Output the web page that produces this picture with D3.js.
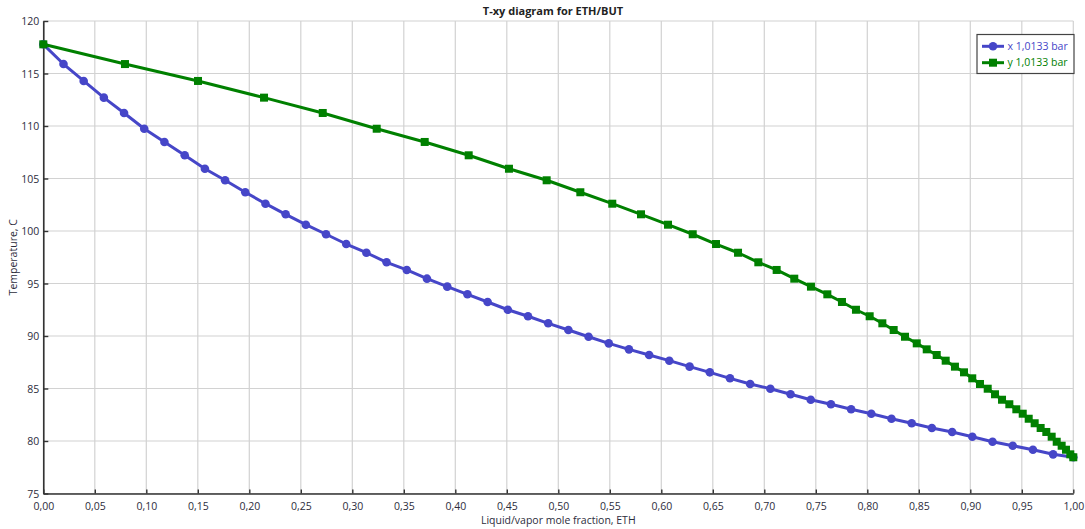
<!DOCTYPE html>
<html>
<head>
<meta charset="utf-8">
<script src="https://cdn.jsdelivr.net/npm/d3@7/dist/d3.min.js"></script>
<style>
  html, body { margin: 0; padding: 0; background: #ffffff; }
  svg { display: block; font-family: "Open Sans", "Noto Sans", sans-serif; }
</style>
</head>
<body>
<svg id="chart" width="1085" height="529"></svg>
<script>
// Equilibrium temperatures (°C) at 1,0133 bar
const temperature = [
  117.78, 115.90, 114.29, 112.70, 111.24, 109.74, 108.48, 107.21, 105.93, 104.83,
  103.69, 102.60, 101.59, 100.60, 99.69, 98.76, 97.93, 97.02, 96.29, 95.46,
  94.70, 93.97, 93.24, 92.50, 91.88, 91.21, 90.57, 89.93, 89.30, 88.73,
  88.19, 87.65, 87.08, 86.54, 85.97, 85.43, 84.98, 84.45, 83.93, 83.50,
  83.02, 82.60, 82.12, 81.69, 81.24, 80.86, 80.41, 79.93, 79.55, 79.17,
  78.73, 78.45
];

// Liquid mole fraction of ETH (bubble-point curve)
const liquidX = [
  0.0000, 0.0196, 0.0392, 0.0588, 0.0784, 0.0980, 0.1176, 0.1373, 0.1569, 0.1765,
  0.1961, 0.2157, 0.2353, 0.2549, 0.2745, 0.2941, 0.3137, 0.3333, 0.3529, 0.3725,
  0.3922, 0.4118, 0.4314, 0.4510, 0.4706, 0.4902, 0.5098, 0.5294, 0.5490, 0.5686,
  0.5882, 0.6078, 0.6275, 0.6471, 0.6667, 0.6863, 0.7059, 0.7255, 0.7451, 0.7647,
  0.7843, 0.8039, 0.8235, 0.8431, 0.8627, 0.8824, 0.9020, 0.9216, 0.9412, 0.9608,
  0.9804, 1.0000
];

// Vapor mole fraction of ETH (dew-point curve)
const vaporY = [
  0.0000, 0.0793, 0.1502, 0.2143, 0.2713, 0.3237, 0.3703, 0.4130, 0.4521, 0.4887,
  0.5214, 0.5524, 0.5803, 0.6065, 0.6305, 0.6531, 0.6745, 0.6942, 0.7120, 0.7291,
  0.7453, 0.7612, 0.7754, 0.7890, 0.8023, 0.8146, 0.8256, 0.8366, 0.8480, 0.8577,
  0.8674, 0.8761, 0.8851, 0.8939, 0.9019, 0.9094, 0.9169, 0.9240, 0.9308, 0.9379,
  0.9447, 0.9509, 0.9567, 0.9625, 0.9683, 0.9738, 0.9790, 0.9839, 0.9887, 0.9929,
  0.9971, 1.0000
];

const xTicks = [0, 0.05, 0.10, 0.15, 0.20, 0.25, 0.30, 0.35, 0.40, 0.45, 0.50,
                0.55, 0.60, 0.65, 0.70, 0.75, 0.80, 0.85, 0.90, 0.95, 1.00];
const yTicks = [75, 80, 85, 90, 95, 100, 105, 110, 115, 120];

const seriesNames = ["x  1,0133 bar", "y  1,0133 bar"];
const blue = "#4646c8";
const green = "#008000";
const textColor = "#2d2d3c";

const W = 1085, H = 529;
const margin = { left: 43.3, right: 11.7, top: 21, bottom: 35.5 };

const svg = d3.select("#chart");

const x = d3.scaleLinear().domain([0, 1]).range([margin.left, W - margin.right]);
const y = d3.scaleLinear().domain([75, 120]).range([H - margin.bottom, margin.top]);

// Grid
const grid = svg.append("g");
grid.selectAll("line.v").data(xTicks).join("line")
  .attr("x1", d => x(d)).attr("x2", d => x(d))
  .attr("y1", y(120)).attr("y2", y(75))
  .attr("stroke", "#d2d2d2").attr("stroke-width", 1.2);
grid.selectAll("line.h").data(yTicks).join("line")
  .attr("x1", x(0)).attr("x2", x(1))
  .attr("y1", d => y(d)).attr("y2", d => y(d))
  .attr("stroke", "#d2d2d2").attr("stroke-width", 1.2);

// Axes (ticks point into the plot)
const fmt = d => d3.format(".2f")(d).replace(".", ",");
const xAxis = svg.append("g")
  .attr("transform", `translate(0,${y(75)})`)
  .call(d3.axisBottom(x).tickValues(xTicks).tickFormat(fmt).tickSize(-4).tickSizeOuter(0).tickPadding(9));
const yAxis = svg.append("g")
  .attr("transform", `translate(${x(0)},0)`)
  .call(d3.axisLeft(y).tickValues(yTicks).tickFormat(d3.format("d")).tickSize(-5).tickSizeOuter(0).tickPadding(4));

[xAxis, yAxis].forEach(a => {
  a.select(".domain").attr("stroke", "#333").attr("stroke-width", 1.6);
  a.selectAll(".tick line").attr("stroke", "#333").attr("stroke-width", 1.4);
  a.selectAll(".tick text").attr("fill", textColor)
    .style("font-size", "10.5px").style("font-family", "'Open Sans', sans-serif");
});
yAxis.selectAll(".tick text").attr("dy", "0.35em");
xAxis.selectAll(".tick text").attr("dy", "0.71em");

// Titles
svg.append("text")
  .attr("x", 553).attr("y", 15)
  .attr("text-anchor", "middle")
  .attr("fill", "#222")
  .style("font-size", "11px").style("font-weight", "bold")
  .text("T-xy diagram for ETH/BUT");

svg.append("text")
  .attr("x", (x(0) + x(1)) / 2).attr("y", 524)
  .attr("text-anchor", "middle")
  .attr("fill", textColor)
  .style("font-size", "10.5px")
  .text("Liquid/vapor mole fraction, ETH");

svg.append("text")
  .attr("transform", `translate(17,${(y(75) + y(120)) / 2}) rotate(-90)`)
  .attr("text-anchor", "middle")
  .attr("fill", textColor)
  .style("font-size", "10.5px")
  .text("Temperature, C");

// Series
const liquidPts = liquidX.map((v, i) => [v, temperature[i]]);
const vaporPts = vaporY.map((v, i) => [v, temperature[i]]);
const line = d3.line().x(d => x(d[0])).y(d => y(d[1]));

const plot = svg.append("g");
plot.append("path").datum(liquidPts)
  .attr("d", line).attr("fill", "none")
  .attr("stroke", blue).attr("stroke-width", 3).attr("stroke-linejoin", "round");
plot.selectAll("circle.liq").data(liquidPts).join("circle")
  .attr("cx", d => x(d[0])).attr("cy", d => y(d[1])).attr("r", 4.3)
  .attr("fill", blue);

plot.append("path").datum(vaporPts)
  .attr("d", line).attr("fill", "none")
  .attr("stroke", green).attr("stroke-width", 3).attr("stroke-linejoin", "round");
const sq = 8;
plot.selectAll("rect.vap").data(vaporPts).join("rect")
  .attr("x", d => x(d[0]) - sq / 2).attr("y", d => y(d[1]) - sq / 2)
  .attr("width", sq).attr("height", sq)
  .attr("fill", green);

// Legend
const lg = svg.append("g");
lg.append("rect")
  .attr("x", 977).attr("y", 34.5).attr("width", 97).attr("height", 39)
  .attr("fill", "#fff").attr("stroke", "#444").attr("stroke-width", 1.2);
const rows = [
  { name: seriesNames[0], color: blue, shape: "circle", cy: 46.3 },
  { name: seriesNames[1], color: green, shape: "square", cy: 62.7 }
];
rows.forEach(r => {
  lg.append("line")
    .attr("x1", 982).attr("x2", 1004).attr("y1", r.cy).attr("y2", r.cy)
    .attr("stroke", r.color).attr("stroke-width", 3);
  if (r.shape === "circle") {
    lg.append("circle").attr("cx", 993).attr("cy", r.cy).attr("r", 4.3).attr("fill", r.color);
  } else {
    lg.append("rect").attr("x", 993 - sq / 2).attr("y", r.cy - sq / 2)
      .attr("width", sq).attr("height", sq).attr("fill", r.color);
  }
  lg.append("text")
    .attr("x", 1007.5).attr("y", r.cy).attr("dy", "0.35em")
    .attr("fill", r.color)
    .style("font-size", "10.5px")
    .text(r.name);
});
</script>
</body>
</html>
